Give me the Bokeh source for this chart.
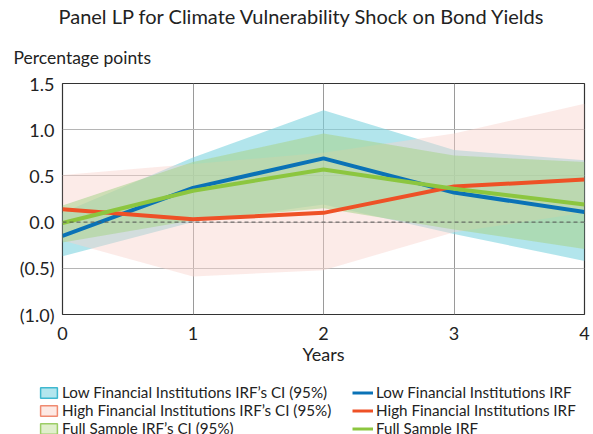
from bokeh.plotting import figure
from bokeh.models import FixedTicker, Legend, LegendItem, Span, ColumnDataSource, Title
from bokeh.layouts import column
from bokeh.embed import file_html
from bokeh.resources import INLINE

years = [0, 1, 2, 3, 4]
low_irf = [-0.15, 0.37, 0.69, 0.32, 0.11]
high_irf = [0.14, 0.03, 0.10, 0.385, 0.46]
full_irf = [-0.01, 0.34, 0.57, 0.36, 0.19]
low_ci_lo = [-0.37, 0.00, 0.19, -0.13, -0.42]
low_ci_hi = [0.10, 0.70, 1.21, 0.78, 0.67]
high_ci_lo = [-0.20, -0.59, -0.52, -0.11, 0.10]
high_ci_hi = [0.51, 0.63, 0.75, 0.96, 1.28]
full_ci_lo = [-0.22, 0.02, 0.15, -0.08, -0.29]
full_ci_hi = [0.18, 0.65, 0.96, 0.72, 0.65]
y_ticks = [-1.0, -0.5, 0.0, 0.5, 1.0, 1.5]
y_labels = ["(1.0)", "(0.5)", "0.0", "0.5", "1.0", "1.5"]
series_labels = ["Low Financial Institutions IRF", "High Financial Institutions IRF", "Full Sample IRF"]
ci_labels = ["Low Financial Institutions IRF\u2019s CI (95%)",
             "High Financial Institutions IRF\u2019s CI (95%)",
             "Full Sample IRF\u2019s CI (95%)"]

FONT = "Lato"
TXT = "#222222"
CYAN, PINK, LGREEN = "#7fd3e0", "#f8d3cb", "#a8d48a"
BLUE, RED, GREEN = "#0a72b6", "#ee5126", "#8cc63f"

p = figure(width=593, height=364, frame_width=522, frame_height=231, output_backend="svg",
           toolbar_location=None, x_range=(0, 4), y_range=(-1.0, 1.5),
           min_border_left=62, min_border_right=9, min_border_top=83, min_border_bottom=50)
p.title.text = "Panel LP for Climate Vulnerability Shock on Bond Yields"
p.title.text_font = FONT
p.title.text_font_size = "20px"
p.title.text_font_style = "normal"
p.title.align = "left"
p.title.offset = -4
p.title.standoff = 3
p.title.text_color = TXT

src = ColumnDataSource(dict(x=years, l=low_irf, h=high_irf, f=full_irf,
                            llo=low_ci_lo, lhi=low_ci_hi, hlo=high_ci_lo, hhi=high_ci_hi,
                            flo=full_ci_lo, fhi=full_ci_hi))
p.varea(x="x", y1="llo", y2="lhi", source=src, fill_color=CYAN, fill_alpha=0.6)
p.varea(x="x", y1="hlo", y2="hhi", source=src, fill_color=PINK, fill_alpha=0.45)
p.varea(x="x", y1="flo", y2="fhi", source=src, fill_color=LGREEN, fill_alpha=0.55)

p.add_layout(Span(location=0, dimension="width", line_color="#555555", line_dash="4 3", line_width=1))

p.line(x="x", y="l", source=src, line_color=BLUE, line_width=4)
p.line(x="x", y="h", source=src, line_color=RED, line_width=4)
p.line(x="x", y="f", source=src, line_color=GREEN, line_width=4)

p.xaxis.ticker = FixedTicker(ticks=years)
p.yaxis.ticker = FixedTicker(ticks=y_ticks)
p.yaxis.major_label_overrides = {t: s for t, s in zip(y_ticks, y_labels)}
p.xaxis.axis_label = "Years"
for ax in (p.xaxis, p.yaxis):
    ax.major_label_text_font = FONT
    ax.major_label_text_font_size = "18px"
    ax.major_label_text_color = TXT
    ax.axis_line_color = None
    ax.major_tick_line_color = None
    ax.minor_tick_line_color = None
p.xaxis.major_label_standoff = 6
p.yaxis.major_label_standoff = 2
p.xaxis.axis_label_text_font = FONT
p.xaxis.axis_label_text_font_size = "18px"
p.xaxis.axis_label_text_font_style = "normal"
p.xaxis.axis_label_text_color = TXT
p.xaxis.axis_label_standoff = 0

p.xgrid.grid_line_color = "#9a9a9a"
p.ygrid.grid_line_color = "#b5b5b5"
p.outline_line_color = "#333333"
p.outline_line_width = 1.2

p.add_layout(Title(text="Percentage points", text_font=FONT, text_font_size="17.5px",
                   text_font_style="normal", text_color=TXT, align="left", offset=-49,
                   standoff=31), "above")

# legend strip: keys drawn from the same data, kept outside this strip's visible range
p2 = figure(width=593, height=70, frame_width=593, frame_height=70, output_backend="svg",
            toolbar_location=None, x_axis_type=None, y_axis_type=None,
            x_range=(0, 4), y_range=(10, 11), min_border=0, outline_line_color=None)
p2.grid.visible = False

band_pairs = [(low_ci_lo, low_ci_hi), (high_ci_lo, high_ci_hi), (full_ci_lo, full_ci_hi)]
sw_style = [("#b3e6ee", "#3fb8cf"), ("#fde9e4", "#f08a70"), ("#e0efcc", "#9ccd66")]
sw = []
for (lo, hi), (fc, lc) in zip(band_pairs, sw_style):
    sw.append(p2.patch(x=years + years[::-1], y=lo + hi[::-1], fill_color=fc,
                       line_color=lc, line_width=1.5))
dl = [p2.line(x="x", y=k, source=src, line_color=c, line_width=3)
      for k, c in (("l", BLUE), ("h", RED), ("f", GREEN))]

items = [LegendItem(label=ci_labels[i], renderers=[sw[i]]) for i in range(3)]
items += [LegendItem(label=series_labels[i], renderers=[dl[i]]) for i in range(3)]

legend = Legend(items=items, ncols=2, location=(38, 0))
legend.label_text_font = FONT
legend.label_text_font_size = "15.2px"
legend.label_text_line_height = 1.0
legend.label_text_color = TXT
legend.glyph_width = 21
legend.glyph_height = 13
legend.label_height = 18
legend.label_width = 290
legend.spacing = 0
legend.padding = 0
legend.margin = 0
legend.border_line_alpha = 0
legend.background_fill_alpha = 0
legend.label_standoff = 3
p2.add_layout(legend, "center")

open("out.html", "w").write(file_html(column(p, p2, spacing=0), INLINE))
